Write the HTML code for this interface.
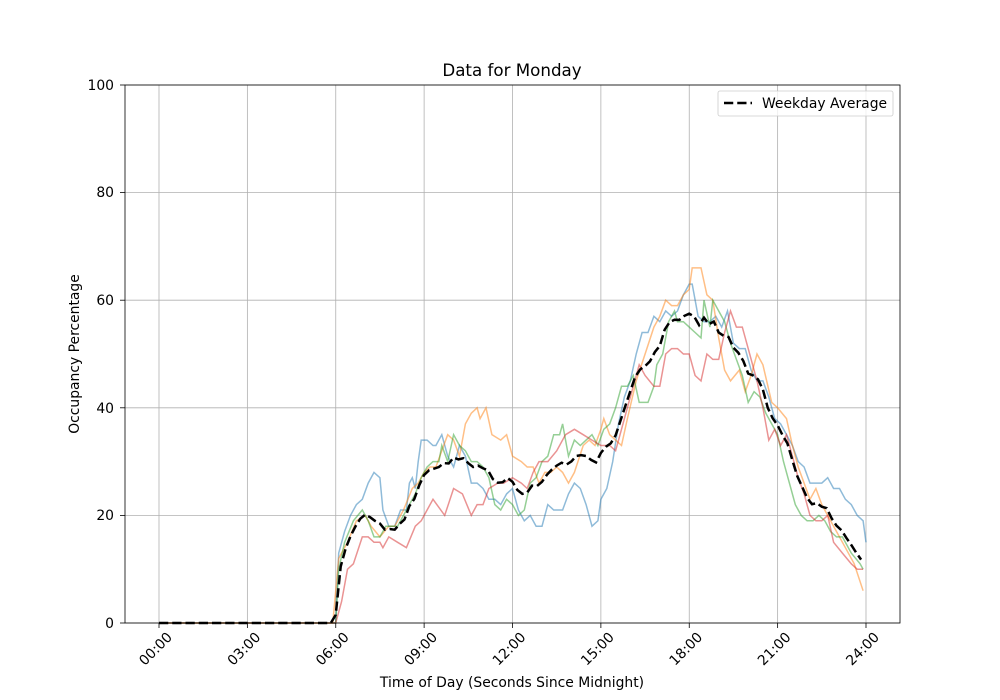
<!DOCTYPE html>
<html><head><meta charset="utf-8"><style>body{margin:0;background:#fff}svg{display:block;font-family:"DejaVu Sans","Liberation Sans",sans-serif}</style></head>
<body>
<svg id="s" width="1000" height="700" xmlns="http://www.w3.org/2000/svg">
<rect width="1000" height="700" fill="#fff"/>
<g id="grid" stroke="#b0b0b0" stroke-width="0.8"></g>
<g id="series" fill="none"></g>
<rect x="125" y="85" width="775" height="538" fill="none" stroke="#000" stroke-width="0.8"/>
<g id="ticks" stroke="#000" stroke-width="0.8"></g>
<g font-size="13.9" fill="#000" text-anchor="end">
<text x="114" y="628">0</text><text x="114" y="520">20</text><text x="114" y="413">40</text><text x="114" y="305">60</text><text x="114" y="197">80</text><text x="114" y="90">100</text>
</g>
<g id="xl" font-size="13.9" fill="#000" text-anchor="end"></g>
<text x="512" y="76" font-size="16.7" text-anchor="middle">Data for Monday</text>
<text x="512" y="687" font-size="13.9" text-anchor="middle">Time of Day (Seconds Since Midnight)</text>
<text transform="translate(79,354) rotate(-90)" font-size="13.9" text-anchor="middle">Occupancy Percentage</text>
<rect x="718" y="91" width="175" height="25" rx="2" fill="#fff" fill-opacity="0.8" stroke="#ccc" stroke-width="0.8"/>
<line x1="724" y1="103" x2="752" y2="103" stroke="#000" stroke-width="2.5" stroke-dasharray="9.25,4"/>
<text x="762" y="108" font-size="13.9">Weekday Average</text>
</svg>
<script>
var X=h=>159+h*29.4583,Y=v=>623-v*5.38,ns="http://www.w3.org/2000/svg";
function el(p,t,a){var e=document.createElementNS(ns,t);for(var k in a)e.setAttribute(k,a[k]);document.getElementById(p).appendChild(e);return e}
for(var h=0;h<=24;h+=3){var x=X(h);el("grid","line",{x1:x,x2:x,y1:85,y2:623});el("ticks","line",{x1:x,x2:x,y1:623,y2:628});
var t=el("xl","text",{transform:"translate("+(x+14)+",638) rotate(-45)"});t.textContent=(h<10?"0":"")+h+":00";}
for(var v=0;v<=100;v+=20){var y=Y(v);el("grid","line",{x1:125,x2:900,y1:y,y2:y});el("ticks","line",{x1:120,x2:125,y1:y,y2:y});}
function P(s){var a=s.trim().split(/\s+/).map(p=>p.split(":").map(Number));return [[0,0],[5.9,0]].concat(a)}
var B=P("6.0:0 6.1:13 6.3:17 6.5:20 6.7:22 6.9:23 7.1:26 7.3:28 7.5:27 7.6:21 7.8:18 8.0:18 8.2:21 8.4:21 8.5:26 8.6:27 8.7:25 8.8:30 8.9:34 9.1:34 9.3:33 9.4:33 9.6:35 9.8:31 10.0:29 10.2:33 10.4:31 10.6:26 10.8:26 11.0:25 11.2:23 11.4:23 11.6:22 11.8:24 12.0:25 12.2:21 12.4:19 12.6:20 12.8:18 13.0:18 13.2:22 13.4:21 13.7:21 13.9:24 14.1:26 14.3:25 14.5:22 14.7:18 14.9:19 15.0:23 15.2:25 15.4:30 15.6:37 15.8:42 16.0:45 16.2:50 16.4:54 16.6:54 16.8:57 17.0:56 17.2:58 17.4:57 17.6:58 17.8:61 18.0:63 18.1:63 18.3:57 18.5:56 18.7:56 18.9:57 19.1:55 19.3:58 19.5:52 19.7:51 19.9:51 20.1:47 20.3:45 20.5:45 20.7:42 20.9:38 21.1:37 21.3:35 21.5:33 21.7:30 21.9:29 22.1:26 22.3:26 22.5:26 22.7:27 22.9:25 23.1:25 23.3:23 23.5:22 23.7:20 23.9:19 24.0:15");
var O=P("6.1:12 6.4:15 6.7:19 7.0:20 7.2:18 7.5:16 7.8:18 8.0:18 8.3:21 8.6:25 8.8:26 9.0:28 9.2:29 9.4:29 9.6:32 9.8:35 10.0:34 10.2:31 10.4:37 10.6:39 10.8:40 10.9:38 11.1:40 11.3:35 11.6:34 11.8:35 12.0:31 12.3:30 12.5:29 12.7:29 12.9:26 13.1:28 13.3:28 13.5:29 13.7:28 13.9:26 14.1:28 14.4:33 14.6:34 14.8:33 15.0:36 15.1:38 15.3:35 15.5:34 15.7:33 15.9:38 16.2:45 16.5:50 16.8:55 17.0:57 17.2:60 17.4:59 17.6:59 17.8:61 18.0:62 18.1:66 18.4:66 18.6:61 18.8:60 19.0:53 19.2:47 19.4:45 19.7:47 19.9:43 20.1:46 20.3:50 20.5:48 20.8:41 21.0:40 21.3:38 21.5:33 21.7:29 21.9:26 22.1:23 22.3:25 22.5:22 22.8:19 23.0:17 23.3:14 23.6:11 23.9:6");
var G=P("6.0:0 6.1:10 6.3:15 6.6:19 6.9:21 7.1:19 7.3:16 7.5:16 7.7:18 7.9:18 8.1:18 8.4:21 8.7:24 8.9:27 9.1:29 9.3:30 9.5:30 9.6:33 9.8:30 10.0:35 10.2:33 10.4:32 10.6:30 10.8:30 11.0:29 11.2:27 11.4:22 11.6:21 11.8:23 12.0:22 12.2:20 12.4:21 12.6:26 12.8:27 13.0:30 13.2:31 13.4:35 13.6:35 13.7:37 13.9:31 14.1:34 14.3:33 14.5:34 14.7:35 14.9:33 15.1:36 15.3:37 15.5:40 15.7:44 15.9:44 16.1:46 16.3:41 16.6:41 16.8:44 16.9:48 17.1:50 17.3:56 17.5:58 17.6:56 17.8:56 18.0:55 18.2:54 18.4:53 18.5:60 18.7:55 18.8:60 19.0:58 19.2:56 19.4:52 19.6:49 19.8:46 20.0:41 20.2:43 20.4:42 20.6:39 20.8:37 21.0:35 21.2:30 21.4:26 21.6:22 21.8:20 22.0:19 22.2:19 22.4:20 22.6:19 22.8:17 23.0:16 23.2:16 23.5:13 23.8:11 23.9:10");
var R=P("6.0:0 6.2:4 6.4:10 6.6:11 6.9:16 7.1:16 7.3:15 7.5:15 7.6:14 7.8:16 8.1:15 8.4:14 8.7:18 8.9:19 9.1:21 9.3:23 9.7:20 10.0:25 10.3:24 10.6:20 10.8:22 11.0:22 11.2:25 11.5:26 11.7:26 12.0:27 12.3:26 12.5:25 12.7:28 12.9:30 13.2:30 13.5:32 13.8:35 14.1:36 14.4:35 14.7:34 15.0:33 15.3:33 15.5:32 15.7:36 16.0:42 16.3:48 16.5:46 16.8:44 17.0:44 17.2:50 17.4:51 17.6:51 17.8:50 18.0:50 18.2:46 18.4:45 18.6:50 18.8:49 19.0:49 19.2:54 19.4:58 19.6:55 19.8:55 20.0:51 20.3:45 20.5:40 20.7:34 20.9:36 21.1:33 21.3:35 21.5:31 21.7:27 21.9:24 22.1:20 22.3:19 22.5:19 22.7:20 22.9:15 23.2:13 23.5:11 23.7:10 23.9:10");
function pts(a){return a.map(p=>X(p[0]).toFixed(1)+","+Y(p[1]).toFixed(1)).join(" ")}
[[B,"#1f77b4"],[O,"#ff7f0e"],[G,"#2ca02c"],[R,"#d62728"]].forEach(s=>el("series","polyline",{points:pts(s[0]),stroke:s[1],"stroke-width":1.5,"stroke-opacity":0.5}));
function I(a,h){if(h>=a[a.length-1][0])return a[a.length-1][1];for(var i=1;i<a.length;i++)if(a[i][0]>=h){var p=a[i-1],q=a[i];return p[1]+(q[1]-p[1])*(h-p[0])/(q[0]-p[0]||1)}return 0}
var A=[];for(var h=0;h<=23.95;h+=1/6){A.push([h,(I(B,h)+I(O,h)+I(G,h)+I(R,h))/4])}
el("series","polyline",{points:pts(A),stroke:"#000","stroke-width":2.5,"stroke-dasharray":"9.25,4"});
</script>
</body></html>
